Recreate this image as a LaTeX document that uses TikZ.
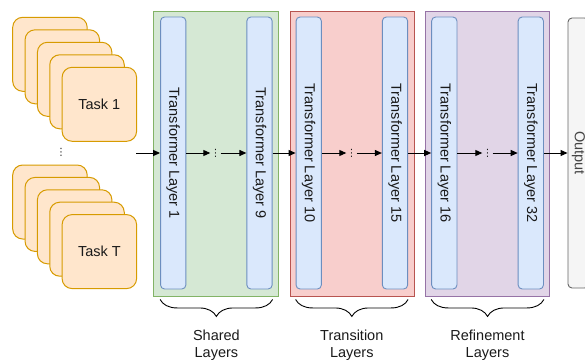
\documentclass[tikz,border=0pt]{standalone}
\usepackage{fontspec}
\setmainfont{Liberation Sans}
\newfontfamily\dejavu{DejaVu Sans}
\usetikzlibrary{arrows.meta,decorations.pathreplacing}
\definecolor{taskfill}{HTML}{FFE6CC}
\definecolor{taskdraw}{HTML}{D79B00}
\definecolor{layfill}{HTML}{DAE8FC}
\definecolor{laydraw}{HTML}{6C8EBF}
\definecolor{grfill}{HTML}{D5E8D4}
\definecolor{grdraw}{HTML}{82B366}
\definecolor{rdfill}{HTML}{F8CECC}
\definecolor{rddraw}{HTML}{B85450}
\definecolor{pufill}{HTML}{E1D5E7}
\definecolor{pudraw}{HTML}{9673A6}
\definecolor{outfill}{HTML}{F5F5F5}
\definecolor{outdraw}{HTML}{666666}
\definecolor{outtext}{HTML}{444444}
\definecolor{txt}{HTML}{1A1A1A}
\begin{document}
\begin{tikzpicture}[x=1pt,y=-1pt, font=\fontsize{14.5}{17}\selectfont, text=txt,
 card/.style={draw=taskdraw, fill=taskfill, rounded corners=10pt, minimum width=74.5pt, minimum height=74pt, line width=1pt, inner sep=0pt},
 layer/.style={draw=laydraw, fill=layfill, rounded corners=4pt, rotate=-90, minimum width=272pt, minimum height=25.3pt, inner sep=0pt, line width=0.9pt},
 group/.style={minimum width=124.3pt, minimum height=285pt, inner sep=0pt, line width=0.9pt},
 conn/.style={-{Triangle[length=7pt,width=6pt]}, line width=1pt, draw=black},
 dots/.style={inner sep=0pt, minimum width=10pt, font=\dejavu\fontsize{10}{10}\selectfont},
 brc/.style={decorate, decoration={brace, mirror, amplitude=17pt}, line width=0.9pt},
 outbox/.style={draw=outdraw, fill=outfill, rounded corners=4pt, rotate=-90, minimum width=270pt, minimum height=20.6pt, inner sep=0pt, line width=0.9pt, text=outtext}
]
\clip (0,0) rectangle (585,361);
% task stacks
\foreach \i in {0,...,3}{
  \node[card] (ca\i) at ({49.95+12.35*\i},{54.3+12.5*\i}) {};
  \node[card] (cb\i) at ({49.95+12.35*\i},{202+12.4*\i}) {};
}
\node[card] (task1) at (99.35,104.3) {Task 1};
\node[card] (taskT) at (99.35,251.6) {Task T};
\node[dots] (vd) at (61,152) {⋮};
\coordinate (in) at (136,153);
% groups
\node[group, draw=grdraw, fill=grfill] (G1) at (216,153.5) {};
\node[group, draw=rddraw, fill=rdfill] (G2) at (352.2,153.5) {};
\node[group, draw=pudraw, fill=pufill] (G3) at (487.2,153.5) {};
% layers
\node[layer] (L1) at (173.2,153) {Transformer Layer 1};
\node[layer] (L9) at (259.5,153) {Transformer Layer 9};
\node[layer] (L10) at (308.7,153) {Transformer Layer 10};
\node[layer] (L15) at (395,153) {Transformer Layer 15};
\node[layer] (L16) at (444.3,153) {Transformer Layer 16};
\node[layer] (L32) at (530.8,153) {Transformer Layer 32};
\node[dots] (d1) at (215.5,153) {⋮};
\node[dots] (d2) at (351.5,153) {⋮};
\node[dots] (d3) at (487.5,153) {⋮};
\node[outbox] (out) at (578.3,153) {Output};
% connectors
\draw[conn] (in) -- (L1);
\draw[conn] (L1) -- (d1);
\draw[conn] (d1) -- (L9);
\draw[conn] (L9) -- (L10);
\draw[conn] (L10) -- (d2);
\draw[conn] (d2) -- (L15);
\draw[conn] (L15) -- (L16);
\draw[conn] (L16) -- (d3);
\draw[conn] (d3) -- (L32);
\draw[conn] (L32) -- (out);
% braces
\draw[brc] ([yshift=-10pt]L1.south east) -- ([yshift=-10pt]L9.north east);
\draw[brc] ([yshift=-10pt]L10.south east) -- ([yshift=-10pt]L15.north east);
\draw[brc] ([yshift=-10pt]L16.south east) -- ([yshift=-10pt]L32.north east);
\node[align=center, inner sep=0pt] (lab1) at (216.4,345) {Shared\\Layers};
\node[align=center, inner sep=0pt] (lab2) at (351.8,345) {Transition\\Layers};
\node[align=center, inner sep=0pt] (lab3) at (487.5,345) {Refinement\\Layers};
\end{tikzpicture}
\end{document}
